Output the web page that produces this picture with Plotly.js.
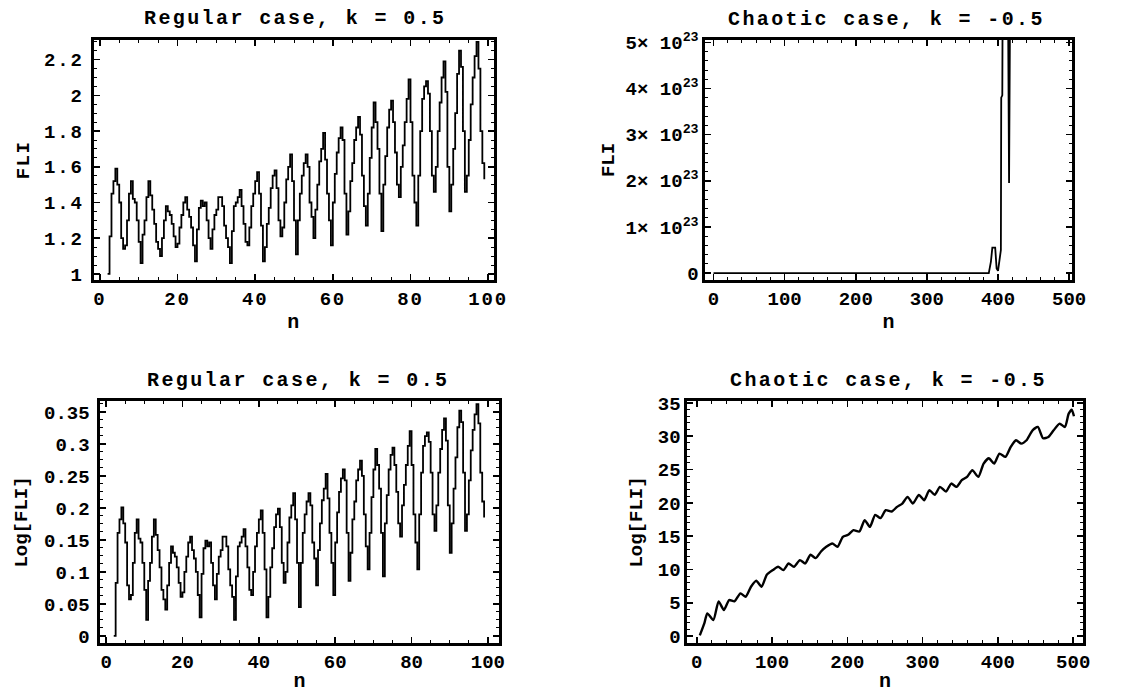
<!DOCTYPE html>
<html>
<head>
<meta charset="utf-8">
<script src="https://cdn.plot.ly/plotly-3.0.1.min.js"></script>
<style>
  html, body { margin: 0; padding: 0; background: #fff; }
  #chart { width: 1128px; height: 693px; }
  .annotation-text { letter-spacing: 2.4px; }
  .xtick text, .ytick text { letter-spacing: 1.8px; }
  .xtitle, .ytitle { letter-spacing: 1.5px; }
</style>
</head>
<body>
<div id="chart"></div>
<script>
// ---------------- DATA ----------------
// Regular case, k = 0.5 : FLI sampled every half step, starting at n = 2
const regStartN = 2;
const regStepN = 0.5;
const regFLI = [
  1.00,1.21,1.45,1.52,1.59,1.50,1.40,1.20,1.14,1.16,
  1.30,1.45,1.52,1.42,1.40,1.30,1.18,1.06,1.22,1.30,
  1.43,1.52,1.44,1.36,1.28,1.18,1.14,1.10,1.20,1.30,
  1.38,1.35,1.33,1.28,1.21,1.15,1.17,1.26,1.33,1.40,
  1.43,1.36,1.32,1.26,1.16,1.07,1.25,1.37,1.41,1.38,
  1.40,1.30,1.20,1.14,1.25,1.33,1.36,1.43,1.43,1.38,
  1.27,1.20,1.15,1.06,1.24,1.38,1.40,1.43,1.47,1.38,
  1.28,1.18,1.16,1.26,1.38,1.45,1.52,1.57,1.45,1.27,
  1.07,1.15,1.28,1.37,1.48,1.55,1.58,1.48,1.30,1.21,
  1.26,1.40,1.53,1.60,1.67,1.52,1.30,1.11,1.30,1.45,
  1.55,1.62,1.67,1.60,1.40,1.32,1.20,1.36,1.50,1.63,
  1.70,1.79,1.64,1.45,1.30,1.16,1.40,1.56,1.68,1.76,
  1.82,1.75,1.45,1.22,1.35,1.52,1.62,1.75,1.82,1.88,
  1.78,1.55,1.38,1.27,1.45,1.65,1.82,1.96,1.85,1.70,
  1.45,1.24,1.50,1.66,1.82,1.92,1.97,1.85,1.68,1.50,
  1.43,1.60,1.72,1.85,1.98,2.09,1.85,1.55,1.40,1.27,
  1.55,1.80,1.98,2.05,2.08,2.01,1.80,1.55,1.46,1.60,
  1.80,1.96,2.10,2.19,2.02,1.60,1.35,1.50,1.70,1.90,
  2.12,2.25,2.16,1.80,1.46,1.55,1.75,1.95,2.10,2.22,
  2.30,2.15,1.80,1.62,1.53
];
// Regular case, k = 0.5 : Log[FLI]
const regLogFLI = [
  0.000,0.083,0.161,0.182,0.201,0.176,0.146,0.079,0.057,0.064,
  0.114,0.161,0.182,0.152,0.146,0.114,0.072,0.025,0.086,0.114,
  0.155,0.182,0.158,0.134,0.107,0.072,0.057,0.041,0.079,0.114,
  0.140,0.130,0.124,0.107,0.083,0.061,0.068,0.100,0.124,0.146,
  0.155,0.134,0.121,0.100,0.064,0.029,0.097,0.137,0.149,0.140,
  0.146,0.114,0.079,0.057,0.097,0.124,0.134,0.155,0.155,0.140,
  0.104,0.079,0.061,0.025,0.093,0.140,0.146,0.155,0.167,0.140,
  0.107,0.072,0.064,0.100,0.140,0.161,0.182,0.196,0.161,0.104,
  0.029,0.061,0.107,0.137,0.170,0.190,0.199,0.170,0.114,0.083,
  0.100,0.146,0.185,0.204,0.223,0.182,0.114,0.045,0.114,0.161,
  0.190,0.210,0.223,0.204,0.146,0.121,0.079,0.134,0.176,0.212,
  0.230,0.253,0.215,0.161,0.114,0.064,0.146,0.193,0.225,0.246,
  0.260,0.243,0.161,0.086,0.130,0.182,0.210,0.243,0.260,0.274,
  0.250,0.190,0.140,0.104,0.161,0.217,0.260,0.292,0.267,0.230,
  0.161,0.093,0.176,0.220,0.260,0.283,0.294,0.267,0.225,0.176,
  0.155,0.204,0.236,0.267,0.297,0.320,0.267,0.190,0.146,0.104,
  0.190,0.255,0.297,0.312,0.318,0.303,0.255,0.190,0.164,0.204,
  0.255,0.292,0.322,0.340,0.305,0.204,0.130,0.176,0.230,0.279,
  0.326,0.352,0.334,0.255,0.164,0.190,0.243,0.290,0.322,0.346,
  0.362,0.332,0.255,0.210,0.185
];

// Chaotic case, k = -0.5 : FLI (in units of 10^23); values above 5 leave the frame
const chaosFliN = [0, 387, 390, 392, 396, 398, 400, 402, 404, 404.5, 406, 406.5, 411, 414, 415.5, 417, 500];
const chaosFli  = [0, 0, 0.25, 0.55, 0.55, 0.1, 0.05, 0.35, 0.5, 3.8, 3.85, 6, 6, 6, 1.95, 6, 6];

// Chaotic case, k = -0.5 : Log[FLI]
const chaosLogN = [4,10,14,22,29,36,43,50,58,65,72,79,86,93,101,108,115,122,129,137,
  144,151,158,165,172,180,187,194,201,208,216,223,230,237,244,251,259,266,273,280,
  287,295,302,309,316,323,331,338,345,352,359,366,374,381,388,395,402,410,417,424,
  431,438,446,453,460,467,474,482,489,494,498,501];
const chaosLog = [0.1,1.9,3.4,2.4,5.2,3.9,5.4,5.2,6.4,5.9,7.4,8.3,7.4,9.2,9.9,10.4,9.9,10.9,10.4,11.4,
  10.9,12.2,11.7,12.7,13.4,13.9,13.4,14.9,15.2,15.9,15.7,17.4,16.4,18.2,17.7,18.9,18.7,19.4,19.9,20.9,
  19.9,21.2,20.4,21.9,21.2,22.4,21.7,22.9,22.4,23.4,23.9,24.9,23.9,25.9,26.7,25.9,27.4,26.9,28.4,29.4,
  28.9,29.4,30.9,31.4,29.7,29.9,30.9,31.9,31.4,33.4,34.0,33.0];

// Tick labels
const regNTicks = [0, 20, 40, 60, 80, 100];
const chaosNTicks = [0, 100, 200, 300, 400, 500];
const regFliTickVals = [1, 1.2, 1.4, 1.6, 1.8, 2, 2.2];
const regFliTickText = ['1', '1.2', '1.4', '1.6', '1.8', '2', '2.2'];
const chaosFliTickVals = [0, 1, 2, 3, 4, 5];
const chaosFliTickText = ['0', '1× 10<sup>23</sup>', '2× 10<sup>23</sup>', '3× 10<sup>23</sup>', '4× 10<sup>23</sup>', '5× 10<sup>23</sup>'];
const regLogTickVals = [0, 0.05, 0.1, 0.15, 0.2, 0.25, 0.3, 0.35];
const regLogTickText = ['0', '0.05', '0.1', '0.15', '0.2', '0.25', '0.3', '0.35'];
const chaosLogTickVals = [0, 5, 10, 15, 20, 25, 30, 35];

const panelTitles = ['Regular case, k = 0.5', 'Chaotic case, k = -0.5', 'Regular case, k = 0.5', 'Chaotic case, k = -0.5'];
const xTitle = 'n';
const yTitles = ['FLI', 'FLI', 'Log[FLI]', 'Log[FLI]'];

// ---------------- PLOT ----------------
const regN = regFLI.map((_, i) => regStartN + i * regStepN);

const W = 1128, H = 693;
const FONT = '"Liberation Mono", "Courier New", monospace';
const domX = (a, b) => [a / W, b / W];
const domY = (top, bottom) => [1 - bottom / H, 1 - top / H];

const lineStyle = { color: '#000', width: 1.8 };

const traces = [
  { x: regN, y: regFLI, type: 'scatter', mode: 'lines', line: Object.assign({ shape: 'hv' }, lineStyle), xaxis: 'x', yaxis: 'y' },
  { x: chaosFliN, y: chaosFli, type: 'scatter', mode: 'lines', line: { color: '#000', width: 1.8 }, xaxis: 'x2', yaxis: 'y2' },
  { x: regN, y: regLogFLI, type: 'scatter', mode: 'lines', line: Object.assign({ shape: 'hv' }, lineStyle), xaxis: 'x3', yaxis: 'y3' },
  { x: chaosLogN, y: chaosLog, type: 'scatter', mode: 'lines', line: { color: '#000', width: 2.4, shape: 'spline', smoothing: 0.6 }, xaxis: 'x4', yaxis: 'y4' }
];

function axis(extra) {
  return Object.assign({
    showline: true, linecolor: '#000', linewidth: 2.6, mirror: 'allticks',
    ticks: 'inside', ticklen: 6, tickwidth: 1.6, tickcolor: '#000',
    showgrid: false, zeroline: false, fixedrange: true,
    tickfont: { family: FONT, size: 19, color: '#000', weight: 'bold' }
  }, extra);
}
function minor(d) { return { ticks: 'inside', ticklen: 3, tickwidth: 1, tickcolor: '#000', dtick: d, showgrid: false }; }
function xT(standoff) { return { text: xTitle, font: { family: FONT, size: 20, color: '#000', weight: 'bold' }, standoff: standoff }; }
function yT(t, standoff) { return { text: t, font: { family: FONT, size: 19, color: '#000', weight: 'bold' }, standoff: standoff }; }

const layout = {
  width: W, height: H,
  margin: { l: 0, r: 0, t: 0, b: 0 },
  paper_bgcolor: '#fff', plot_bgcolor: '#fff',
  showlegend: false,
  font: { family: FONT, color: '#000' },
  xaxis: axis({ domain: domX(94, 494), range: [-1.5, 101.5], tickvals: regNTicks, minor: minor(5), anchor: 'y', title: xT(4) }),
  yaxis: axis({ domain: domY(40, 280), range: [0.966, 2.31], tickvals: regFliTickVals, ticktext: regFliTickText, minor: minor(0.05), anchor: 'x', ticklabelstandoff: 4, title: yT(yTitles[0], 10) }),
  xaxis2: axis({ domain: domX(705, 1072), range: [-12, 504], tickvals: chaosNTicks, minor: minor(20), anchor: 'y2', title: xT(4) }),
  yaxis2: axis({ domain: domY(40, 280), range: [-0.15, 5.05], tickvals: chaosFliTickVals, ticktext: chaosFliTickText, minor: minor(0.2), anchor: 'x2', title: yT(yTitles[1], 6) }),
  xaxis3: axis({ domain: domX(100, 499), range: [-1.6, 102.9], tickvals: regNTicks, minor: minor(5), anchor: 'y3', title: xT(4) }),
  yaxis3: axis({ domain: domY(401, 643), range: [-0.011, 0.367], tickvals: regLogTickVals, ticktext: regLogTickText, minor: minor(0.0125), anchor: 'x3', ticklabelstandoff: 4, title: yT(yTitles[2], 12) }),
  xaxis4: axis({ domain: domX(687, 1083), range: [-13, 513], tickvals: chaosNTicks, minor: minor(20), anchor: 'y4', title: xT(4) }),
  yaxis4: axis({ domain: domY(401, 643), range: [-1.05, 35.3], tickvals: chaosLogTickVals, minor: minor(1), anchor: 'x4', title: yT(yTitles[3], 10) }),
  annotations: [
    [295, 18], [886, 20], [298, 380], [888, 380]
  ].map((p, i) => ({
    text: panelTitles[i], xref: 'paper', yref: 'paper', x: p[0] / W, y: 1 - p[1] / H,
    xanchor: 'center', yanchor: 'middle', showarrow: false,
    font: { family: FONT, size: 20, color: '#000', weight: 'bold' }
  }))
};

Plotly.newPlot('chart', traces, layout, { displayModeBar: false, staticPlot: true });
</script>
</body>
</html>
